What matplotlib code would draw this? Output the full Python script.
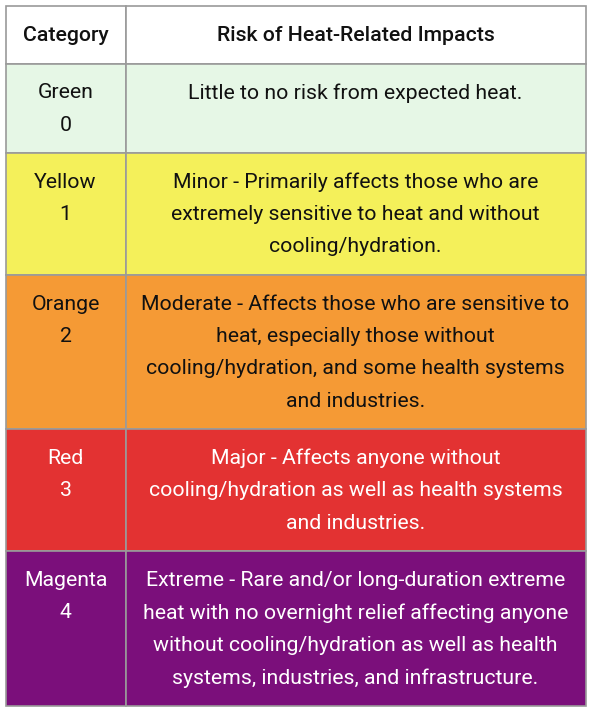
import matplotlib.pyplot as plt
from matplotlib.patches import Rectangle

plt.rcParams['font.family'] = ['Roboto', 'DejaVu Sans']

# table contents
headers = ["Category", "Risk of Heat-Related Impacts"]
categories = [["Green", "0"], ["Yellow", "1"], ["Orange", "2"], ["Red", "3"], ["Magenta", "4"]]
impacts = [
    ["Little to no risk from expected heat."],
    ["Minor - Primarily affects those who are",
     "extremely sensitive to heat and without",
     "cooling/hydration."],
    ["Moderate - Affects those who are sensitive to",
     "heat, especially those without",
     "cooling/hydration, and some health systems",
     "and industries."],
    ["Major - Affects anyone without",
     "cooling/hydration as well as health systems",
     "and industries."],
    ["Extreme - Rare and/or long-duration extreme",
     "heat with no overnight relief affecting anyone",
     "without cooling/hydration as well as health",
     "systems, industries, and infrastructure."],
]
row_colors = ["#e6f7e6", "#f4f05a", "#f59a35", "#e33232", "#7b0f7b"]
text_colors = ["#111111", "#111111", "#111111", "white", "white"]

W, H = 591, 715
fig = plt.figure(figsize=(W / 100, H / 100), dpi=100)
ax = fig.add_axes([0, 0, 1, 1])
ax.set_xlim(0, W)
ax.set_ylim(H, 0)
ax.axis('off')

x0, x1, x2 = 5.5, 125.5, 585.5
y_header = 5.5
header_h = 58
line_h = 32.5
fs = 15.3

border = "#9a9a9a"
# header
for xa, xb, t in [(x0, x1, headers[0]), (x1, x2, headers[1])]:
    ax.add_patch(Rectangle((xa, y_header), xb - xa, header_h, facecolor='white',
                           edgecolor=border, lw=1.2))
    ax.text((xa + xb) / 2, y_header + header_h / 2 + 1, t, ha='center', va='center',
            fontsize=fs, fontweight='medium', color='#111111')

y = y_header + header_h
for cat, imp, fc, tc in zip(categories, impacts, row_colors, text_colors):
    n = max(len(cat), len(imp))
    h = 89 if n <= 2 else 57 + (n - 1) * line_h
    for xa, xb, lines in [(x0, x1, cat), (x1, x2, imp)]:
        ax.add_patch(Rectangle((xa, y), xb - xa, h, facecolor=fc, edgecolor=border, lw=1.2))
        for i, s in enumerate(lines):
            ax.text((xa + xb) / 2, y + 29.5 + i * line_h, s, ha='center', va='center',
                    fontsize=fs, color=tc)
    y += h

fig.savefig("out.png", dpi=100)
